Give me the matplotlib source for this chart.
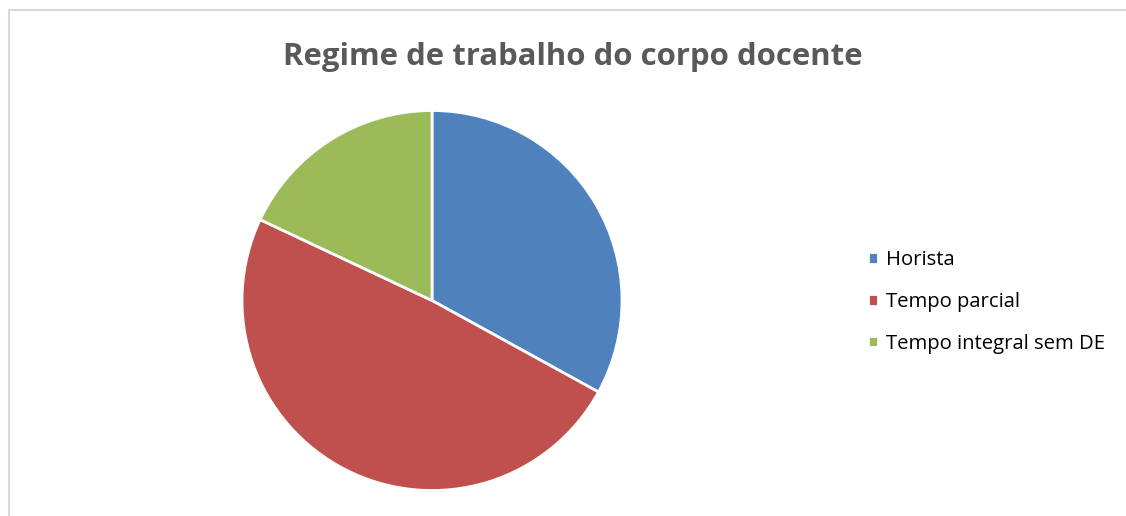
import matplotlib.pyplot as plt
from matplotlib.patches import Rectangle

# Dados do gráfico
categorias = ["Horista", "Tempo parcial", "Tempo integral sem DE"]
valores = [33, 49, 18]
cores = ["#4f81bd", "#c0504d", "#9bbb59"]

fig = plt.figure(figsize=(11.26, 5.16), dpi=100)

# moldura cinza do gráfico
fig.patches.append(Rectangle((9 / 1126, -0.1), 1.2, 1 - 10 / 516 + 0.1,
                             transform=fig.transFigure, fill=False,
                             edgecolor="#d9d9d9", linewidth=1.5))

ax = fig.add_axes([242 / 1126, 25 / 516, 380 / 1126, 381 / 516])
fatias, _ = ax.pie(valores, colors=cores, startangle=90, counterclock=False,
                   radius=1, wedgeprops=dict(edgecolor="white", linewidth=2))
ax.set_xlim(-1, 1)
ax.set_ylim(-1, 1)
ax.set_aspect("equal")

fig.text(573 / 1126, 1 - 57 / 516, "Regime de trabalho do corpo docente",
         ha="center", va="center", fontsize=22.4, fontweight="bold",
         color="#595959", family="Open Sans")

fig.legend(fatias, categorias, loc="center left",
           bbox_to_anchor=(868 / 1126, 1 - 302 / 516), frameon=False,
           borderpad=0, borderaxespad=0,
           handlelength=0.5, handleheight=0.5, handletextpad=0.38,
           labelspacing=1.08, prop={"family": "Open Sans", "size": 14.6})

fig.savefig("out.png", dpi=100)
